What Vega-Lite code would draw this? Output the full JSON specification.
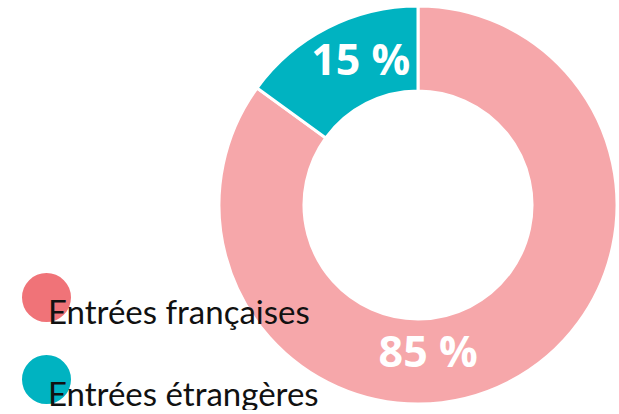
{
  "$schema": "https://vega.github.io/schema/vega-lite/v6.json",
  "width": 400,
  "height": 410,
  "autosize": "none",
  "padding": {"left": 218, "top": 0, "right": 0, "bottom": 0},
  "background": "white",
  "config": {"view": {"stroke": null}},
  "data": {
    "values": [
      {"cat": "Entrées françaises", "value": 85, "label": "85 %"},
      {"cat": "Entrées étrangères", "value": 15, "label": "15 %"}
    ]
  },
  "encoding": {
    "theta": {"field": "value", "type": "quantitative", "stack": true},
    "order": {"field": "value", "type": "quantitative", "sort": "descending"}
  },
  "layer": [
    {
      "mark": {"type": "arc", "outerRadius": 199, "innerRadius": 114, "stroke": "white", "strokeWidth": 3},
      "encoding": {
        "fillOpacity": {"condition": {"test": "datum.cat === 'Entrées françaises'", "value": 0.63}, "value": 1},
        "color": {
          "field": "cat",
          "type": "nominal",
          "scale": {"domain": ["Entrées françaises", "Entrées étrangères"], "range": ["#F07378", "#00B3C1"]},
          "legend": {
            "title": null,
            "orient": "none",
            "legendX": -196,
            "legendY": 273,
            "padding": 0,
            "symbolType": "circle",
            "symbolSize": 2400,
            "symbolStrokeWidth": 0,
            "symbolOpacity": 1,
            "symbolFillOpacity": 1,
            "rowPadding": 24,
            "labelOffset": -23,
            "labelFont": "Lato",
            "labelFontSize": 33,
            "labelColor": "#111111",
            "labelBaseline": "top",
            "labelLimit": 400
          }
        }
      }
    },
    {
      "mark": {"type": "text", "radius": 148, "dx": 10, "dy": 2, "font": "Open Sans", "fontWeight": "bold", "fontSize": 43, "fill": "white", "align": "center", "baseline": "alphabetic"},
      "encoding": {"text": {"condition": {"test": "datum.value == 15", "field": "label"}, "value": ""}}
    },
    {
      "mark": {"type": "text", "radius": 150, "dx": -58, "dy": 28, "font": "Open Sans", "fontWeight": "bold", "fontSize": 43, "fill": "white", "align": "center", "baseline": "alphabetic"},
      "encoding": {"text": {"condition": {"test": "datum.value == 85", "field": "label"}, "value": ""}}
    }
  ]
}
